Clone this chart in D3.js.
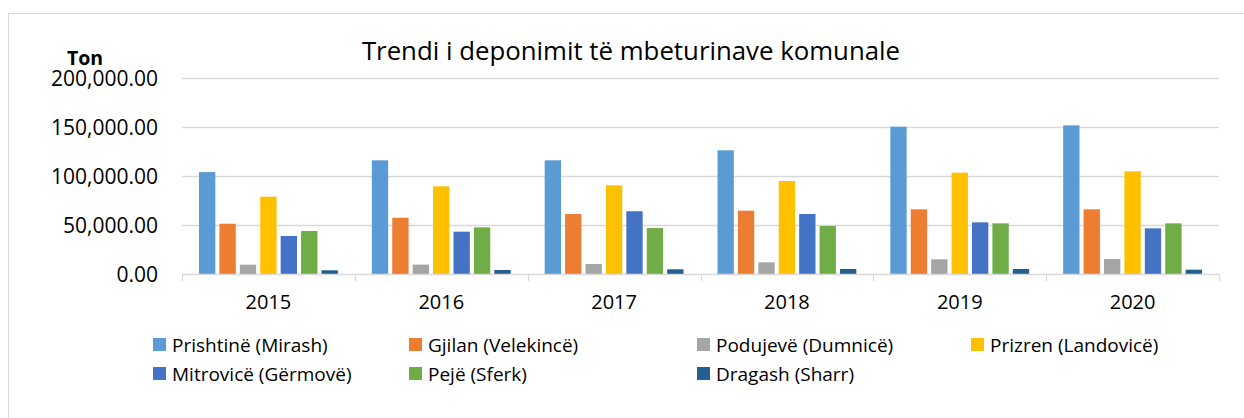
<!DOCTYPE html>
<html>
<head>
<meta charset="utf-8">
<script src="https://cdn.jsdelivr.net/npm/d3@7"></script>
<style>
  body { margin: 0; background: #fff; }
  svg text { font-family: "Open Sans", sans-serif; fill: #000; }
</style>
</head>
<body>
<div class="chart"></div>
<script>
const years = ["2015", "2016", "2017", "2018", "2019", "2020"];
const sites = ["Prishtinë (Mirash)", "Gjilan (Velekincë)", "Podujevë (Dumnicë)", "Prizren (Landovicë)",
  "Mitrovicë (Gërmovë)", "Pejë (Sferk)", "Dragash (Sharr)"];
const prishtine = [104000, 116000, 116000, 126200, 150300, 151700];
const gjilan    = [51300, 57400, 61200, 64600, 66000, 66000];
const podujeve  = [9500, 9600, 10200, 11900, 15000, 15300];
const prizren   = [78900, 89500, 90500, 94900, 103400, 104800];
const mitrovice = [38800, 43200, 64000, 61200, 52700, 46600];
const peje      = [43900, 47600, 46900, 49000, 51700, 51700];
const dragash   = [3800, 4100, 4800, 5100, 5100, 4400];
const yTicks = [0, 50000, 100000, 150000, 200000];
const colors = ["#5B9BD5", "#ED7D31", "#A5A5A5", "#FFC000", "#4472C4", "#70AD47", "#255E91"];

const series = [prishtine, gjilan, podujeve, prizren, mitrovice, peje, dragash];

const W = 1244, H = 418;
const plot = { left: 182, right: 1219, top: 78, bottom: 274 };

const svg = d3.select(".chart").append("svg").attr("width", W).attr("height", H);

// chart frame
svg.append("rect").attr("x", 8.5).attr("y", 13.5).attr("width", W + 20).attr("height", H + 20)
  .attr("fill", "none").attr("stroke", "#d9d9d9").attr("stroke-width", 1);

const x = d3.scaleBand().domain(years).range([plot.left, plot.right]).paddingInner(0).paddingOuter(0);
const x1 = d3.scaleBand().domain(d3.range(sites.length)).range([17, x.bandwidth() - 17]).paddingInner(0.2);
const y = d3.scaleLinear().domain([0, 200000]).range([plot.bottom, plot.top]);

// gridlines
svg.append("g").selectAll("line").data(yTicks.slice(1)).enter().append("line")
  .attr("x1", plot.left).attr("x2", plot.right)
  .attr("y1", d => Math.round(y(d)) + 0.5).attr("y2", d => Math.round(y(d)) + 0.5)
  .attr("stroke", "#d9d9d9").attr("stroke-width", 1.3);

// y labels
svg.append("g").selectAll("text").data(yTicks).enter().append("text")
  .attr("x", 158).attr("y", d => y(d) + 7.5)
  .attr("text-anchor", "end").attr("font-size", 21)
  .text(d => d3.format(",.2f")(d));

svg.append("text").attr("x", 67).attr("y", 65).attr("font-size", 19.5).attr("font-weight", 700).text("Ton");

// bars
const groups = svg.append("g").selectAll("g").data(years).enter().append("g")
  .attr("transform", d => `translate(${x(d)},0)`);

groups.selectAll("rect").data((d, i) => series.map((s, k) => ({ k, v: s[i] }))).enter().append("rect")
  .attr("x", d => x1(d.k)).attr("width", x1.bandwidth())
  .attr("y", d => y(d.v)).attr("height", d => y(0) - y(d.v))
  .attr("fill", d => colors[d.k]);

// x axis
const xAxis = svg.append("g");
xAxis.append("line").attr("x1", plot.left).attr("x2", plot.right)
  .attr("y1", plot.bottom + 0.5).attr("y2", plot.bottom + 0.5).attr("stroke", "#d9d9d9").attr("stroke-width", 1.3);
xAxis.selectAll("line.tick").data(years.map(d => x(d)).concat([plot.right])).enter().append("line")
  .attr("class", "tick")
  .attr("x1", d => Math.round(d) + 0.5).attr("x2", d => Math.round(d) + 0.5)
  .attr("y1", plot.bottom).attr("y2", plot.bottom + 7).attr("stroke", "#d9d9d9").attr("stroke-width", 1.3);
xAxis.selectAll("text").data(years).enter().append("text")
  .attr("x", d => x(d) + x.bandwidth() / 2).attr("y", 309)
  .attr("text-anchor", "middle").attr("font-size", 20).text(d => d);

// title
svg.append("text").attr("x", 631).attr("y", 60).attr("text-anchor", "middle")
  .attr("font-size", 25.8).text("Trendi i deponimit të mbeturinave komunale");

// legend
const legX = [153, 409, 697, 971];
const legend = svg.append("g").selectAll("g").data(sites).enter().append("g")
  .attr("transform", (d, i) => `translate(${legX[i % 4]},${i < 4 ? 352 : 381})`);
legend.append("rect").attr("x", 0).attr("y", -14).attr("width", 13).attr("height", 13)
  .attr("fill", (d, i) => colors[i]);
legend.append("text").attr("x", 19).attr("y", 0).attr("font-size", 19).text(d => d);
</script>
</body>
</html>
